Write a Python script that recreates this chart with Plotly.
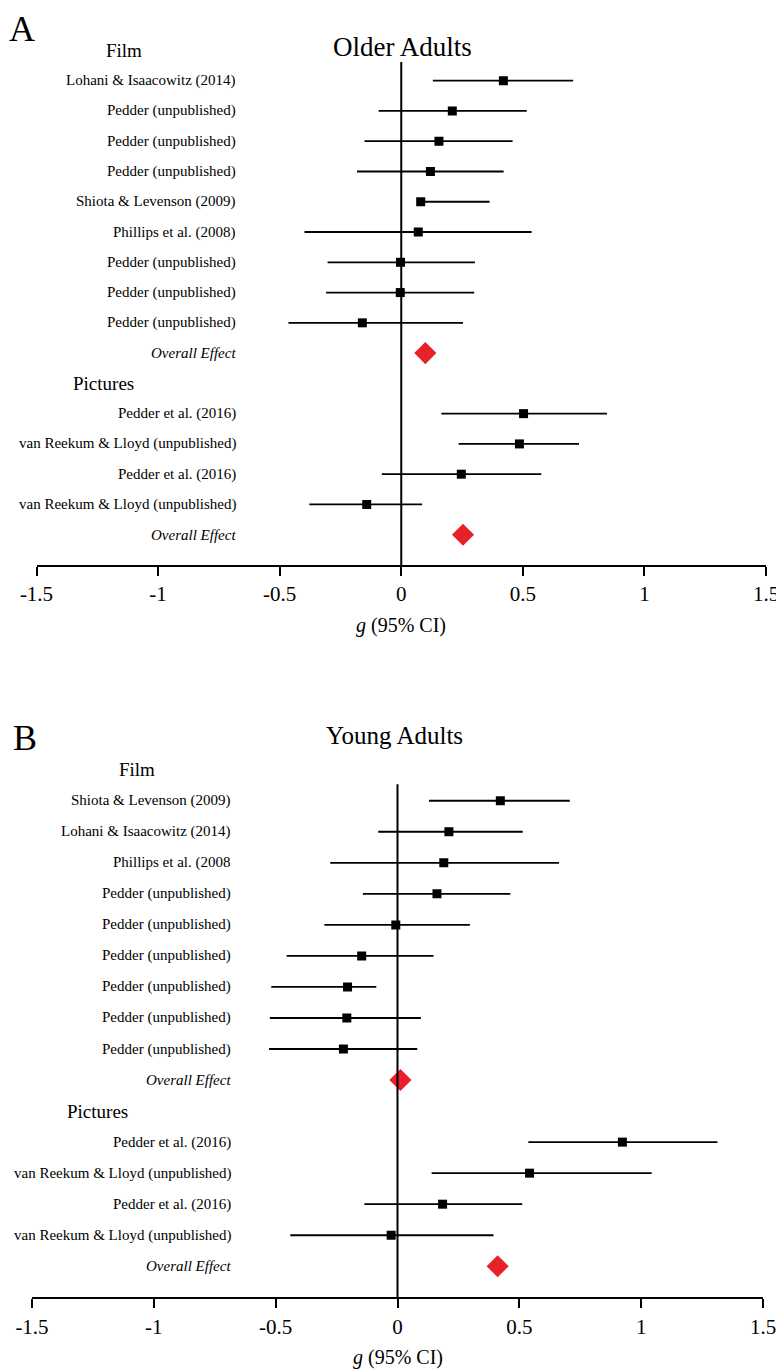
import plotly.graph_objects as go

# page body has an 8px margin, so the figure is drawn 8px smaller and coordinates shifted
OFF = 8
W, H = 784 - OFF, 1370 - OFF
FONT = "Liberation Serif, Times New Roman, serif"
C_RED = "#E8202A"

# ---- Panel A: Older Adults ----
older_film_labels = ["Lohani & Isaacowitz (2014)", "Pedder (unpublished)", "Pedder (unpublished)",
                     "Pedder (unpublished)", "Shiota & Levenson (2009)", "Phillips et al. (2008)",
                     "Pedder (unpublished)", "Pedder (unpublished)", "Pedder (unpublished)"]
older_film_g = [0.42, 0.21, 0.155, 0.12, 0.08, 0.07, -0.003, -0.004, -0.16]
older_film_lo = [0.13, -0.093, -0.151, -0.182, 0.07, -0.398, -0.303, -0.309, -0.464]
older_film_hi = [0.707, 0.516, 0.458, 0.421, 0.363, 0.536, 0.303, 0.30, 0.254]
older_film_overall = 0.099

older_pic_labels = ["Pedder et al. (2016)", "van Reekum & Lloyd (unpublished)",
                    "Pedder et al. (2016)", "van Reekum & Lloyd (unpublished)"]
older_pic_g = [0.503, 0.486, 0.247, -0.142]
older_pic_lo = [0.165, 0.236, -0.08, -0.378]
older_pic_hi = [0.846, 0.731, 0.576, 0.086]
older_pic_overall = 0.254

# ---- Panel B: Young Adults ----
young_film_labels = ["Shiota & Levenson (2009)", "Lohani & Isaacowitz (2014)", "Phillips et al. (2008",
                     "Pedder (unpublished)", "Pedder (unpublished)", "Pedder (unpublished)",
                     "Pedder (unpublished)", "Pedder (unpublished)", "Pedder (unpublished)"]
young_film_g = [0.422, 0.211, 0.190, 0.162, -0.007, -0.147, -0.205, -0.208, -0.222]
young_film_lo = [0.129, -0.079, -0.276, -0.142, -0.30, -0.455, -0.518, -0.524, -0.527]
young_film_hi = [0.707, 0.514, 0.663, 0.463, 0.297, 0.148, -0.087, 0.096, 0.081]
young_film_overall = 0.012

young_pic_labels = ["Pedder et al. (2016)", "van Reekum & Lloyd (unpublished)",
                    "Pedder et al. (2016)", "van Reekum & Lloyd (unpublished)"]
young_pic_g = [0.923, 0.542, 0.185, -0.026]
young_pic_lo = [0.537, 0.140, -0.136, -0.44]
young_pic_hi = [1.313, 1.043, 0.512, 0.394]
young_pic_overall = 0.411

tick_vals = [-1.5, -1, -0.5, 0, 0.5, 1, 1.5]
tick_text = ["-1.5", "-1", "-0.5", "0", "0.5", "1", "1.5"]


def px_x(p):
    return (p - OFF) / W


def px_y(p):
    return 1 - (p - OFF) / H


fig = go.Figure()

panels = [
    dict(ax="", title="Older Adults", title_size=27, letter="A", title_xy=(402, 47),
         film=(older_film_labels, older_film_g, older_film_lo, older_film_hi, older_film_overall),
         pic=(older_pic_labels, older_pic_g, older_pic_lo, older_pic_hi, older_pic_overall),
         xdom=(36.5, 766), ytop=50.4, ybot=565, lab_r=238, film_x=104, pic_x=71, ztop=0.38,
         xlab_y=625),
    dict(ax="2", title="Young Adults", title_size=25, letter="B", title_xy=(394, 735),
         film=(young_film_labels, young_film_g, young_film_lo, young_film_hi, young_film_overall),
         pic=(young_pic_labels, young_pic_g, young_pic_lo, young_pic_hi, young_pic_overall),
         xdom=(32, 763), ytop=769.7, ybot=1297.3, lab_r=233, film_x=117, pic_x=65, ztop=0.47,
         xlab_y=1357),
]

annotations = []
shapes = []
layout_axes = {}

for p in panels:
    ax = p["ax"]
    xref, yref = "x" + ax, "y" + ax
    f_lab, f_g, f_lo, f_hi, f_all = p["film"]
    q_lab, q_g, q_lo, q_hi, q_all = p["pic"]

    # rows: 0 film header, studies, overall, pictures header, studies, overall
    f_rows = list(range(1, len(f_g) + 1))
    f_over = len(f_g) + 1
    q_head = f_over + 1
    q_rows = list(range(q_head + 1, q_head + 1 + len(q_g)))
    q_over = q_rows[-1] + 1
    n_rows = q_over + 1

    for rows, g, lo, hi in [(f_rows, f_g, f_lo, f_hi), (q_rows, q_g, q_lo, q_hi)]:
        fig.add_trace(go.Scatter(
            x=g, y=rows, mode="markers", xaxis=xref, yaxis=yref,
            marker=dict(symbol="square", size=9, color="black"),
            error_x=dict(type="data", symmetric=False,
                         array=[h - v for h, v in zip(hi, g)],
                         arrayminus=[v - l for v, l in zip(g, lo)],
                         color="black", thickness=1.8, width=0),
            showlegend=False, hoverinfo="x"))
    fig.add_trace(go.Scatter(
        x=[f_all, q_all], y=[f_over, q_over], mode="markers", xaxis=xref, yaxis=yref,
        marker=dict(symbol="diamond", size=17, color=C_RED),
        showlegend=False, hoverinfo="x"))

    # zero reference line
    shapes.append(dict(type="line", xref=xref, yref=yref, x0=0, x1=0, y0=p["ztop"], y1=n_rows,
                       line=dict(color="black", width=2)))

    xd = [px_x(p["xdom"][0]), px_x(p["xdom"][1])]
    yd = [px_y(p["ybot"]), px_y(p["ytop"])]
    layout_axes["xaxis" + ax] = dict(
        domain=xd, range=[-1.5, 1.5], anchor=yref, tickvals=tick_vals, ticktext=tick_text,
        showline=True, linewidth=2, linecolor="black", ticks="outside", ticklen=9,
        tickwidth=1.5, tickcolor="black", showgrid=False, zeroline=False, automargin=False,
        ticklabeloverflow="allow",
        tickfont=dict(family=FONT, size=21, color="black"), fixedrange=True)
    layout_axes["yaxis" + ax] = dict(domain=yd, range=[n_rows, 0], visible=False,
                                     anchor=xref, fixedrange=True, automargin=False)

    # study labels
    lab_x = px_x(p["lab_r"])
    for rows, labs in [(f_rows, f_lab), (q_rows, q_lab)]:
        for r, t in zip(rows, labs):
            annotations.append(dict(x=lab_x, y=r, xref="paper", yref=yref, text=t,
                                    showarrow=False, xanchor="right", yanchor="middle",
                                    font=dict(family=FONT, size=15, color="black")))
    for r in (f_over, q_over):
        annotations.append(dict(x=lab_x, y=r, xref="paper", yref=yref, text="<i>Overall Effect</i>",
                                showarrow=False, xanchor="right", yanchor="middle",
                                font=dict(family=FONT, size=15, color="black")))
    annotations.append(dict(x=px_x(p["film_x"]), y=0, xref="paper", yref=yref, text="Film",
                            showarrow=False, xanchor="left", yanchor="middle",
                            font=dict(family=FONT, size=19, color="black")))
    annotations.append(dict(x=px_x(p["pic_x"]), y=q_head, xref="paper", yref=yref, text="Pictures",
                            showarrow=False, xanchor="left", yanchor="middle",
                            font=dict(family=FONT, size=19, color="black")))

    # titles, axis label
    annotations.append(dict(x=px_x(p["title_xy"][0]), y=px_y(p["title_xy"][1]), xref="paper",
                            yref="paper", text=p["title"], showarrow=False, xanchor="center",
                            yanchor="middle", font=dict(family=FONT, size=p["title_size"], color="black")))
    annotations.append(dict(x=(xd[0] + xd[1]) / 2, y=px_y(p["xlab_y"]), xref="paper",
                            yref="paper", text="<i>g</i> (95% CI)", showarrow=False,
                            xanchor="center", yanchor="middle",
                            font=dict(family=FONT, size=20, color="black")))

# panel letters
annotations.append(dict(x=0, y=1, xref="paper", yref="paper", text="A", showarrow=False,
                        xanchor="left", yanchor="top", borderpad=0,
                        font=dict(family=FONT, size=36, color="black")))
annotations.append(dict(x=px_x(11), y=px_y(738), xref="paper", yref="paper", text="B",
                        showarrow=False, xanchor="left", yanchor="middle",
                        font=dict(family=FONT, size=36, color="black")))

fig.update_layout(
    width=W, height=H, margin=dict(l=0, r=0, t=0, b=0, pad=0),
    plot_bgcolor="white", paper_bgcolor="white",
    annotations=annotations, shapes=shapes, showlegend=False,
    **layout_axes)

fig.write_html("out.html", config={"displayModeBar": False})
